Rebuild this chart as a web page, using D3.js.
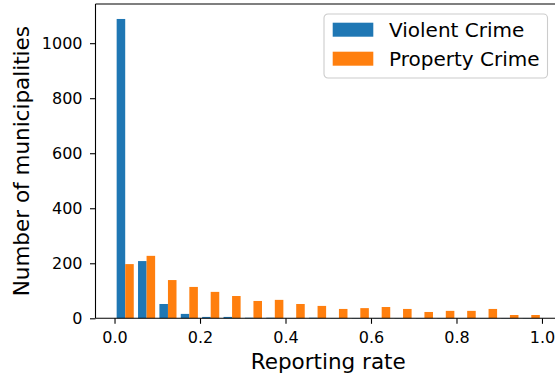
<!DOCTYPE html>
<html>
<head>
<meta charset="utf-8">
<script src="https://cdn.jsdelivr.net/npm/d3@7/dist/d3.min.js"></script>
<style>
  html, body { margin: 0; padding: 0; background: #fff; }
  svg { display: block; }
  text { font-family: "DejaVu Sans", sans-serif; fill: #000; }
</style>
</head>
<body>
<svg id="chart" width="555" height="377"></svg>
<script>
// Histogram of reporting rates: 20 bins of width 0.05 over [0, 1]
const binEdges = d3.range(20).map(i => i * 0.05);
const violentCounts = [1088, 208, 52, 16, 5, 5, 2, 2, 1, 2, 1, 1, 1, 1, 1, 1, 1, 1, 1, 1];
const propertyCounts = [197, 227, 139, 114, 96, 81, 63, 67, 52, 45, 34, 37, 41, 34, 23, 27, 27, 34, 12, 12];
const seriesNames = ["Violent Crime", "Property Crime"];
const seriesColors = ["#1f77b4", "#ff7f0e"];
const xTickValues = [0, 0.2, 0.4, 0.6, 0.8, 1.0];
const yTickValues = [0, 200, 400, 600, 800, 1000];

const binWidth = 0.05;
const barWidth = binWidth * 0.4;   // two bars share 80% of each bin
const barOffset = binWidth * 0.1;

const svg = d3.select("#chart");

const plot = { left: 95.5, right: 561, top: 4, bottom: 318.3 };

const x = d3.scaleLinear()
  .domain([-0.0445, 1.0445])
  .range([plot.left, plot.right]);

const yMax = d3.max(violentCounts) * 1.05;
const y = d3.scaleLinear()
  .domain([0, yMax])
  .range([plot.bottom, plot.top]);

// Bars
const series = [violentCounts, propertyCounts];
series.forEach((counts, s) => {
  svg.append("g")
    .selectAll("rect")
    .data(counts)
    .join("rect")
    .attr("x", (d, i) => x(binEdges[i] + barOffset + s * barWidth))
    .attr("width", (d, i) => x(binEdges[i] + barOffset + (s + 1) * barWidth) - x(binEdges[i] + barOffset + s * barWidth))
    .attr("y", d => y(d))
    .attr("height", d => y(0) - y(d))
    .attr("fill", seriesColors[s]);
});

// Spines (left, bottom, top, right)
const spineStyle = sel => sel.attr("stroke", "#000").attr("stroke-width", 1.1).attr("fill", "none");
svg.append("line").attr("x1", plot.left).attr("x2", plot.left).attr("y1", plot.top).attr("y2", plot.bottom).call(spineStyle);
svg.append("line").attr("x1", plot.left).attr("x2", plot.right).attr("y1", plot.bottom).attr("y2", plot.bottom).call(spineStyle);
svg.append("line").attr("x1", plot.left).attr("x2", plot.right).attr("y1", plot.top).attr("y2", plot.top).call(spineStyle);
svg.append("line").attr("x1", plot.right).attr("x2", plot.right).attr("y1", plot.top).attr("y2", plot.bottom).call(spineStyle);

// Axes
const xAxis = d3.axisBottom(x)
  .tickValues(xTickValues)
  .tickFormat(d3.format(".1f"))
  .tickSize(5.5)
  .tickPadding(8)
  .tickSizeOuter(0);
const gx = svg.append("g")
  .attr("transform", `translate(0,${plot.bottom})`)
  .call(xAxis);
gx.select(".domain").remove();
gx.selectAll(".tick line").attr("stroke", "#000").attr("stroke-width", 1.1);
gx.selectAll(".tick text").attr("font-size", "16px").attr("font-family", "DejaVu Sans").attr("fill", "#000");

const yAxis = d3.axisLeft(y)
  .tickValues(yTickValues)
  .tickFormat(d3.format("d"))
  .tickSize(5.5)
  .tickPadding(7.5)
  .tickSizeOuter(0);
const gy = svg.append("g")
  .attr("transform", `translate(${plot.left},0)`)
  .call(yAxis);
gy.select(".domain").remove();
gy.selectAll(".tick line").attr("stroke", "#000").attr("stroke-width", 1.1);
gy.selectAll(".tick text").attr("font-size", "16px").attr("font-family", "DejaVu Sans").attr("fill", "#000");

// Axis titles
svg.append("text")
  .attr("x", x(0.5))
  .attr("y", 369)
  .attr("text-anchor", "middle")
  .attr("font-size", "21.5px")
  .text("Reporting rate");

svg.append("text")
  .attr("transform", `translate(28.5,${(plot.top + plot.bottom) / 2}) rotate(-90)`)
  .attr("text-anchor", "middle")
  .attr("font-size", "21.5px")
  .text("Number of municipalities");

// Legend
const legend = svg.append("g").attr("transform", "translate(324,14)");
legend.append("rect")
  .attr("width", 223.5)
  .attr("height", 64)
  .attr("rx", 4)
  .attr("fill", "#fff")
  .attr("fill-opacity", 0.8)
  .attr("stroke", "#cccccc")
  .attr("stroke-width", 1.1);
seriesNames.forEach((name, i) => {
  const row = legend.append("g").attr("transform", `translate(0,${i * 29})`);
  row.append("rect")
    .attr("x", 8.7)
    .attr("y", 8.7)
    .attr("width", 40.6)
    .attr("height", 14)
    .attr("fill", seriesColors[i]);
  row.append("text")
    .attr("x", 65)
    .attr("y", 23)
    .attr("font-size", "20px")
    .text(name);
});
</script>
</body>
</html>
